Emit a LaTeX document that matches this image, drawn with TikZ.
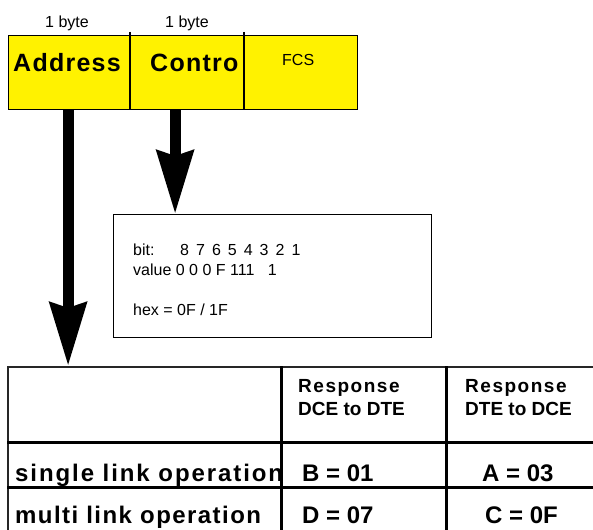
\documentclass[tikz,border=0pt]{standalone}
\usepackage{fontspec}
\setmainfont{Liberation Sans}
\usetikzlibrary{arrows.meta}
\tikzset{
  cell/.style={draw=black, fill=yellow, line width=1.2pt, inner sep=0pt, minimum height=74pt, anchor=north west},
  divider/.style={line width=2.4pt},
  bigarrow/.style={line width=11pt, -{Stealth[length=63pt,width=36pt,inset=5pt]}},
  small/.style={font=\fontsize{16}{18}\selectfont, anchor=base west, inner sep=0pt},
  boxtxt/.style={font=\fontsize{16}{18}\selectfont, anchor=base west, inner sep=0pt},
  fieldtxt/.style={font=\fontsize{25}{28}\selectfont\bfseries\addfontfeature{LetterSpace=5}, anchor=base west, inner sep=0pt},
  headtxt/.style={font=\fontsize{19}{22}\selectfont\bfseries, anchor=base west, inner sep=0pt},
  celltxt/.style={font=\fontsize{24}{28}\selectfont\bfseries, anchor=base west, inner sep=0pt},
  rowtxt/.style={font=\fontsize{24}{28}\selectfont\bfseries\addfontfeature{LetterSpace=6}, anchor=base west, inner sep=0pt},
  widerowtxt/.style={font=\fontsize{24}{28}\selectfont\bfseries\addfontfeature{LetterSpace=8}, anchor=base west, inner sep=0pt},
  thickrule/.style={line width=3pt}
}
\begin{document}
\begin{tikzpicture}[x=1pt,y=-1pt]
\useasboundingbox (0,0) rectangle (593,529);
\clip (0,0) rectangle (593,529);
\fill[white] (0,0) rectangle (593,529);

% byte labels
\node[small] (b1) at (45,28) {1 byte};
\node[small] (b2) at (165,28) {1 byte};

% yellow frame
\node[cell, minimum width=121pt] (addr) at (8,35) {};
\node[cell, minimum width=114pt] (ctrl) at (129,35) {};
\node[cell, minimum width=114pt] (fcs) at (243,35) {};
\draw[divider] ([yshift=3pt]addr.north east) -- (addr.south east);
\draw[divider] ([yshift=3pt]ctrl.north east) -- (ctrl.south east);
\node[fieldtxt] (addrt) at (13,72) {Address};
\node[fieldtxt] (ctrlt) at (150,72) {Contro};
\node[small] (fcst) at (282,66) {FCS};

% bit box
\node[draw, line width=1.2pt, anchor=north west, minimum width=318pt, minimum height=123pt, inner sep=0pt] (bitbox) at (113,214) {};
\node[boxtxt] (bitl) at (133,255) {bit:};
\foreach \d [count=\i from 0] in {8,7,6,5,4,3,2,1}
  \node[boxtxt] (bd\i) at (180+15.9*\i,255) {\d};
\node[boxtxt] (vall) at (133,275) {value 0 0 0 F 111 \ \ 1};
\node[boxtxt] (hexl) at (133,315) {hex = 0F / 1F};

% table
\node[draw=black!85, line width=1.5pt, anchor=north west, minimum width=700pt, minimum height=300pt, inner sep=0pt] (tbl) at (7,366) {};
\coordinate (c1) at (281,366);
\coordinate (c2) at (446,366);
\coordinate (r1) at (7,442);
\coordinate (r2) at (7,487);
\draw[thickrule] (c1) -- (c1 |- tbl.south);
\draw[thickrule] (c2) -- (c2 |- tbl.south);
\draw[thickrule] (r1) -- (r1 -| tbl.east);
\draw[thickrule] (r2) -- (r2 -| tbl.east);

\node[headtxt, font=\fontsize{19}{22}\selectfont\bfseries\addfontfeature{LetterSpace=8}] (h1a) at (298,392) {Response};
\node[headtxt] (h1b) at (298,415) {DCE to DTE};
\node[headtxt, font=\fontsize{19}{22}\selectfont\bfseries\addfontfeature{LetterSpace=8}] (h2a) at (465,392) {Response};
\node[headtxt] (h2b) at (465,415) {DTE to DCE};

\begin{scope}
\clip (8,443) rectangle (279.5,486);
\node[widerowtxt] (row1) at (15,481) {single link operation};
\end{scope}
\node[rowtxt] (row2) at (15,523) {multi link operation};
\node[celltxt] (v11) at (302,481) {B = 01};
\node[celltxt] (v12) at (482,481) {A = 03};
\node[celltxt] (v21) at (302,523) {D = 07};
\node[celltxt] (v22) at (485,523) {C = 0F};

% arrows
\draw[bigarrow] ([xshift=-1pt]addr.south) -- ([xshift=-1pt]addr.south |- tbl.north);
\draw[bigarrow] ([xshift=-11.5pt]ctrl.south) -- ([xshift=-11.5pt]ctrl.south |- bitbox.north);
\end{tikzpicture}
\end{document}
